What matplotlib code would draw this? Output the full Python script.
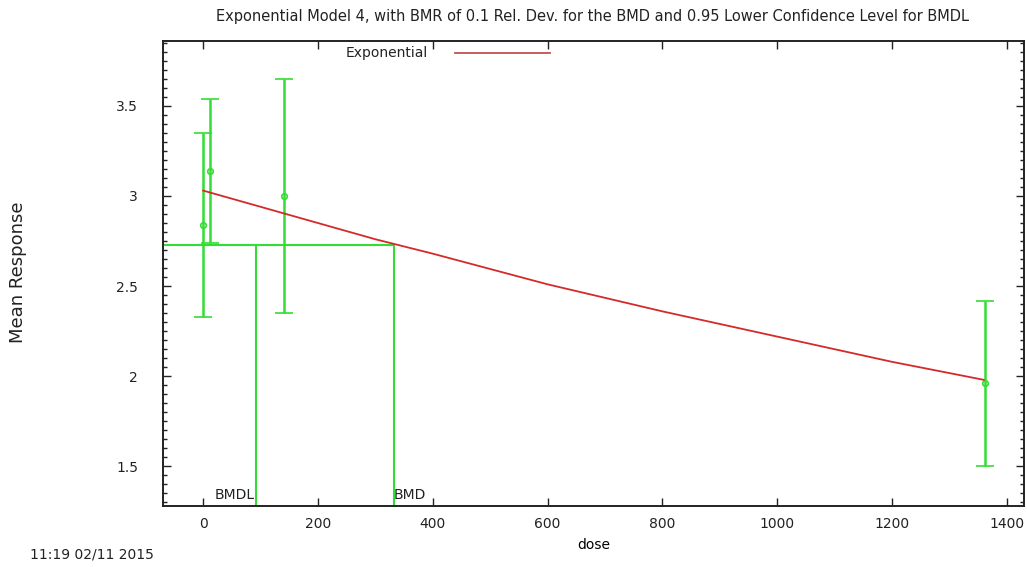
import matplotlib
matplotlib.use("Agg")
import matplotlib.pyplot as plt
from matplotlib.ticker import MultipleLocator

plt.rcParams['font.family'] = ['DejaVu Sans']

# observed data (dose, mean, lower / upper confidence limits)
dose = [0, 12, 140, 1363]
mean = [2.84, 3.14, 3.00, 1.96]
lower = [2.33, 2.74, 2.35, 1.50]
upper = [3.35, 3.54, 3.65, 2.42]

# fitted exponential model 4 curve
model_dose = [0, 100, 200, 300, 400, 600, 800, 1000, 1200, 1360]
model_resp = [3.03, 2.94, 2.85, 2.76, 2.68, 2.51, 2.36, 2.22, 2.08, 1.98]

bmd = 332
bmdl = 92
bmr_level = 2.73

green = '#33dd33'
red = '#d42a2a'
txt = '#222222'

fig = plt.figure(figsize=(10.27, 5.67), dpi=100)
ax = fig.add_axes([0.1587, 0.1076, 0.8383, 0.8201])

ax.plot(model_dose, model_resp, color=red, linewidth=1.3, zorder=3)

yerr = [[m - l for m, l in zip(mean, lower)], [u - m for m, u in zip(mean, upper)]]
ax.errorbar(dose, mean, yerr=yerr, fmt='o', color=green, ecolor=green,
            markerfacecolor='none', markersize=4, markeredgewidth=1.2,
            elinewidth=1.8, capsize=6.8, capthick=1.8, zorder=2)

xmin, xmax = -70, 1430
ymin, ymax = 1.28, 3.86
ax.plot([xmin, bmd], [bmr_level, bmr_level], color=green, linewidth=1.5, zorder=1)
ax.plot([bmd, bmd], [ymin, bmr_level], color=green, linewidth=1.5, zorder=1)
ax.plot([bmdl, bmdl], [ymin, bmr_level], color=green, linewidth=1.5, zorder=1)
ax.text(bmdl - 2, ymin + 0.02, 'BMDL', ha='right', va='bottom', fontsize=10, color=txt)
ax.text(bmd, ymin + 0.02, 'BMD', ha='left', va='bottom', fontsize=10, color=txt)

ax.set_xlim(xmin, xmax)
ax.set_ylim(ymin, ymax)
ax.xaxis.set_major_locator(MultipleLocator(200))
ax.yaxis.set_major_locator(MultipleLocator(0.5))
ax.yaxis.set_minor_locator(MultipleLocator(0.05))
ax.yaxis.set_major_formatter(plt.FuncFormatter(lambda v, p: ('%g' % v)))
ax.tick_params(which='both', direction='in', top=True, right=True, labelsize=10, colors=txt)
ax.tick_params(which='major', length=6, width=1)
ax.tick_params(which='minor', length=3, width=1)
ax.tick_params(axis='x', pad=8)
ax.tick_params(axis='y', pad=18)
for s in ax.spines.values():
    s.set_linewidth(1.4)
    s.set_color(txt)

ax.set_xlabel('dose', fontsize=10, labelpad=5)
fig.text(18 / 1027, 1 - 272 / 567, 'Mean Response', rotation=90, ha='center', va='center',
         fontsize=13, color=txt)

# legend entry
ax.text(0.2125, 0.975, 'Exponential', transform=ax.transAxes, ha='left', va='center',
        fontsize=10, color=txt)
ax.plot([0.339, 0.4495], [0.975, 0.975], transform=ax.transAxes, color='#c05050', linewidth=1.3)

fig.text(592 / 1027, 1 - 17 / 567, 'Exponential Model 4, with BMR of 0.1 Rel. Dev. for the BMD and 0.95 Lower Confidence Level for BMDL',
         ha='center', va='center', fontsize=10.5, color=txt)
fig.text(30 / 1027, 1 - 555 / 567, '11:19 02/11 2015', ha='left', va='center', fontsize=10, color=txt)

fig.savefig('out.png', dpi=100)
